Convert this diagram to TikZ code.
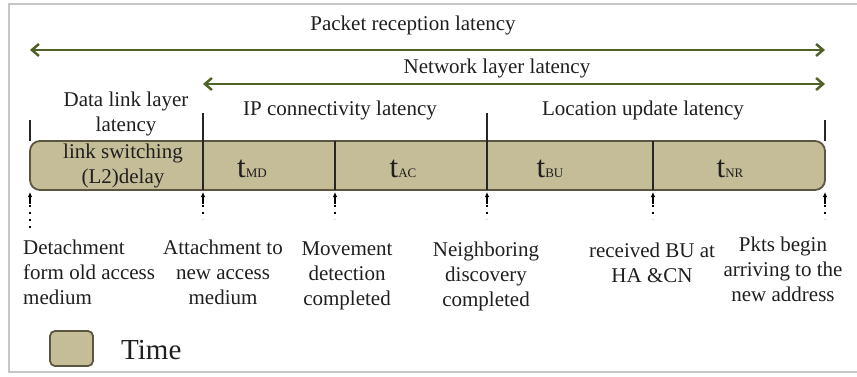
\documentclass[tikz,border=0pt]{standalone}
\usepackage{fontspec}
\setmainfont{Liberation Serif}
\usetikzlibrary{arrows.meta}

\definecolor{olivegreen}{HTML}{4F6228}
\definecolor{tanfill}{HTML}{C4BD97}
\definecolor{tanedge}{HTML}{5A5640}
\newcommand{\tdelay}[1]{{\fontsize{31}{31}\selectfont t}{\fontsize{13}{13}\selectfont #1}}

\begin{document}
\begin{tikzpicture}[x=1pt,y=-1pt,
  every node/.style={font=\fontsize{21}{25}\selectfont, text=black!88, inner sep=0pt},
  latarrow/.style={olivegreen, line width=2.5pt, {Straight Barb[length=7pt,width=12pt]}-{Straight Barb[length=7pt,width=12pt]}},
  divider/.style={black!85, line width=1.3pt},
  timebox/.style={fill=tanfill, draw=tanedge, line width=1.8pt},
  eventmark/.style={black, line width=1.1pt}]
 \useasboundingbox (0,0) rectangle (857,377);
 \draw[gray!45, line width=1.3pt] (9,4) rectangle (858,372);

 % latency spans
 \node (prl) at (413,25) {Packet reception latency};
 \coordinate (prA) at (30,50);
 \coordinate (prB) at (825,50);
 \draw[latarrow] (prA) -- (prB);
 \node (nll) at (497,68) {Network layer latency};
 \coordinate (nlA) at (203,84);
 \coordinate (nlB) at (825,84);
 \draw[latarrow] (nlA) -- (nlB);

 \node[align=center] (dll) at (126,114) {Data link layer\\latency};
 \node (ipl) at (340,110) {IP connectivity latency};
 \node (lul) at (643,110) {Location update latency};

 % time bar
 \draw[timebox, rounded corners=10pt] (30,141) rectangle (825,190);
 \draw[divider] (30,120) -- (30,141);
 \draw[divider] (203,113) -- (203,190);
 \draw[divider] (335,141) -- (335,190);
 \draw[divider] (487,113) -- (487,190);
 \draw[divider] (653,141) -- (653,190);
 \draw[divider] (825,120) -- (825,141);

 \node[align=center] (l2) at (123,166) {link switching\\(L2)delay};
 \node (tmd) at (252,169) {\tdelay{MD}};
 \node (tac) at (403,169) {\tdelay{AC}};
 \node (tbu) at (550,169) {\tdelay{BU}};
 \node (tnr) at (730,169) {\tdelay{NR}};

 % event marks
 \foreach \x/\e in {30/229, 203/219, 335/219, 487/219, 653/219, 825/219} {
  \draw[eventmark, dash pattern=on 2pt off 5pt] (\x,205) -- (\x,\e);
  \draw[eventmark, -{Latex[length=5pt,width=4.5pt]}] (\x,204) -- (\x,192);
 }

 \node[align=left, anchor=west] (det) at (23,272) {Detachment\\form old access\\medium};
 \node[align=center] (att) at (223,272) {Attachment to\\new access\\medium};
 \node[align=center] (mov) at (347,276) {Movement\\detection\\completed};
 \node[align=center] (nei) at (486,276) {Neighboring\\discovery\\completed};
 \node[align=center] (rbu) at (652,263) {received BU at\\HA \&CN};
 \node[align=center] (pkt) at (783,269) {Pkts begin\\arriving to the\\new address};

 % legend
 \draw[timebox, rounded corners=5pt] (50,331) rectangle (93,366);
 \node[font=\fontsize{29}{33}\selectfont, anchor=west] (time) at (121,350) {Time};
\end{tikzpicture}
\end{document}
